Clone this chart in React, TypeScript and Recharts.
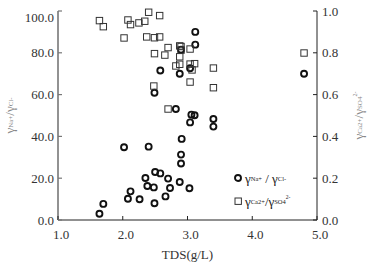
import React from 'react';
import { ScatterChart, Scatter, XAxis, YAxis, Legend } from 'recharts';

// TDS (g/L) and γNa+/γCl- values
const naClTds = [1.64, 1.70, 2.02, 2.08, 2.12, 2.26, 2.35, 2.38, 2.40, 2.48, 2.49, 2.50, 2.49, 2.58, 2.58, 2.66, 2.70, 2.73, 2.82, 2.88, 2.88, 2.90, 2.90, 2.91, 2.90, 3.03, 3.04, 3.04, 3.06, 3.11, 3.12, 3.12, 3.40, 3.40, 4.80];
const naClRatio = [3.0, 7.7, 34.8, 10.2, 13.7, 9.9, 20.1, 16.3, 35.1, 15.6, 8.0, 23.0, 60.9, 22.3, 71.5, 11.3, 19.8, 15.3, 53.1, 18.2, 70.0, 27.0, 31.3, 38.8, 81.5, 15.2, 46.7, 72.6, 50.4, 50.1, 83.9, 90.0, 48.3, 44.7, 70.0];

// TDS (g/L) and γCa2+/γSO4 2- values
const caSo4Tds = [1.64, 1.70, 2.02, 2.08, 2.12, 2.25, 2.34, 2.40, 2.37, 2.49, 2.57, 2.57, 2.49, 2.65, 2.70, 2.48, 2.70, 2.82, 2.88, 2.88, 2.88, 2.90, 2.90, 3.04, 3.04, 3.07, 3.11, 3.04, 3.40, 3.40, 4.80];
const caSo4Ratio = [0.954, 0.925, 0.871, 0.957, 0.935, 0.943, 0.951, 0.994, 0.876, 0.872, 0.876, 0.978, 0.796, 0.789, 0.825, 0.641, 0.531, 0.737, 0.781, 0.745, 0.833, 0.830, 0.813, 0.818, 0.746, 0.718, 0.748, 0.660, 0.727, 0.633, 0.799];

const xTicks = [1, 2, 3, 4, 5];
const leftTicks = [0, 20, 40, 60, 80, 100];
const rightTicks = [0, 0.2, 0.4, 0.6, 0.8, 1.0];

const naClData = naClTds.map((x, i) => ({ x, y: naClRatio[i] }));
const caSo4Data = caSo4Tds.map((x, i) => ({ x, y: caSo4Ratio[i] }));

const FONT = '"Liberation Serif", "DejaVu Serif", serif';
const TICK_COLOR = '#333';

const CircleShape = (p: any) => (
  <circle cx={p.cx} cy={p.cy} r={3} fill="none" stroke="#111" strokeWidth={1.9} />
);
const SquareShape = (p: any) => (
  <rect x={p.cx - 3.2} y={p.cy - 3.2} width={6.4} height={6.4} fill="none" stroke="#333" strokeWidth={1} />
);

const LeftTick = (p: any) => {
  const v = p.payload.value;
  const dy = v === 100 ? 6 : 0;
  return (
    <g>
      <line x1={p.x} x2={p.x + 4} y1={p.y} y2={p.y} stroke="#777" strokeWidth={1.2} />
      <text x={p.x - 4} y={p.y + dy} textAnchor="end" dominantBaseline="central" fontFamily={FONT} fontSize={13} fill={TICK_COLOR}>
        {v.toFixed(1)}
      </text>
    </g>
  );
};

const RightTick = (p: any) => {
  const v = p.payload.value;
  return (
    <g>
      <line x1={p.x - 4} x2={p.x} y1={p.y} y2={p.y} stroke="#222" strokeWidth={1} />
      <text x={p.x + 5} y={p.y} textAnchor="start" dominantBaseline="central" fontFamily={FONT} fontSize={13} fill={TICK_COLOR}>
        {v.toFixed(1)}
      </text>
    </g>
  );
};

const BottomTick = (p: any) => {
  const v = p.payload.value;
  return (
    <g>
      <line x1={p.x} x2={p.x} y1={p.y - 4} y2={p.y} stroke="#222" strokeWidth={1} />
      <text x={p.x + 3} y={p.y + 14} textAnchor="middle" dominantBaseline="central" fontFamily={FONT} fontSize={13} fill={TICK_COLOR}>
        {v.toFixed(1)}
      </text>
    </g>
  );
};

const XLabel = (p: any) => {
  const vb = p.viewBox || {};
  return (
    <text x={vb.x + vb.width / 2} y={vb.y + 34} textAnchor="middle" dominantBaseline="central" fontFamily={FONT} fontSize={13} fill="#333">
      TDS(g/L)
    </text>
  );
};

const LeftLabel = (p: any) => {
  const vb = p.viewBox || {};
  const cx = 9;
  const cy = vb.y + vb.height / 2;
  return (
    <text x={cx} y={cy} transform={`rotate(-90 ${cx} ${cy})`} textAnchor="middle" dominantBaseline="central" fontFamily={FONT} fontSize={13} fill="#888">
      <tspan>γ</tspan>
      <tspan fontSize={7} dy={2}>Na+</tspan>
      <tspan dy={-2}>/γ</tspan>
      <tspan fontSize={7} dy={2}>Cl-</tspan>
    </text>
  );
};

const RightLabel = (p: any) => {
  const vb = p.viewBox || {};
  const cx = 358;
  const cy = vb.y + vb.height / 2;
  return (
    <text x={cx} y={cy} transform={`rotate(-90 ${cx} ${cy})`} textAnchor="middle" dominantBaseline="central" fontFamily={FONT} fontSize={13} fill="#888">
      <tspan>γ</tspan>
      <tspan fontSize={7} dy={2}>Ca2+</tspan>
      <tspan dy={-2}>/γ</tspan>
      <tspan fontSize={7} dy={2}>SO4</tspan>
      <tspan fontSize={6} dy={-5}>2-</tspan>
    </text>
  );
};

const LegendContent = () => (
  <svg width={90} height={45} style={{ display: 'block' }}>
    <circle cx={6} cy={10} r={3} fill="none" stroke="#111" strokeWidth={1.9} />
    <text x={13} y={10} dominantBaseline="central" fontFamily={FONT} fontSize={13} fill="#222">
      <tspan>γ</tspan>
      <tspan fontSize={6.5}>Na+</tspan>
      <tspan> / γ</tspan>
      <tspan fontSize={6.5}>Cl-</tspan>
    </text>
    <rect x={3} y={30} width={6.4} height={6.4} fill="none" stroke="#333" strokeWidth={1} />
    <text x={13} y={33} dominantBaseline="central" fontFamily={FONT} fontSize={13} fill="#222">
      <tspan>γ</tspan>
      <tspan fontSize={6.5}>Ca2+</tspan>
      <tspan>/γ</tspan>
      <tspan fontSize={6.5}>SO4</tspan>
      <tspan fontSize={5.5} dy={-4}>2-</tspan>
    </text>
  </svg>
);

export default function App() {
  return (
    <div style={{ position: 'absolute', left: 0, top: 0, width: 370, height: 263, background: '#fff' }}>
      <ScatterChart width={370} height={263} margin={{ top: 11, right: 18, bottom: 13, left: 18 }}>
        <XAxis
          type="number"
          dataKey="x"
          domain={[1, 5]}
          ticks={xTicks}
          height={30}
          tickSize={0}
          tickMargin={0}
          tick={<BottomTick />}
          axisLine={{ stroke: '#222', strokeWidth: 1 }}
          tickLine={false}
          label={XLabel}
          interval={0}
        />
        <YAxis
          yAxisId="left"
          type="number"
          dataKey="y"
          domain={[0, 100]}
          ticks={leftTicks}
          width={40}
          tickSize={0}
          tickMargin={0}
          tick={<LeftTick />}
          axisLine={{ stroke: '#777', strokeWidth: 1.6 }}
          tickLine={false}
          label={LeftLabel}
          interval={0}
        />
        <YAxis
          yAxisId="right"
          orientation="right"
          type="number"
          dataKey="y"
          domain={[0, 1]}
          ticks={rightTicks}
          width={35}
          tickSize={0}
          tickMargin={0}
          tick={<RightTick />}
          axisLine={{ stroke: '#222', strokeWidth: 1 }}
          tickLine={false}
          label={RightLabel}
          interval={0}
        />
        <Scatter yAxisId="left" data={naClData} shape={CircleShape} isAnimationActive={false} />
        <Scatter yAxisId="right" data={caSo4Data} shape={SquareShape} isAnimationActive={false} />
        <Legend
          layout="horizontal"
          verticalAlign="middle"
          align="center"
          content={LegendContent}
          wrapperStyle={{ left: 232, top: 168, width: 90, height: 45 }}
        />
      </ScatterChart>
    </div>
  );
}
